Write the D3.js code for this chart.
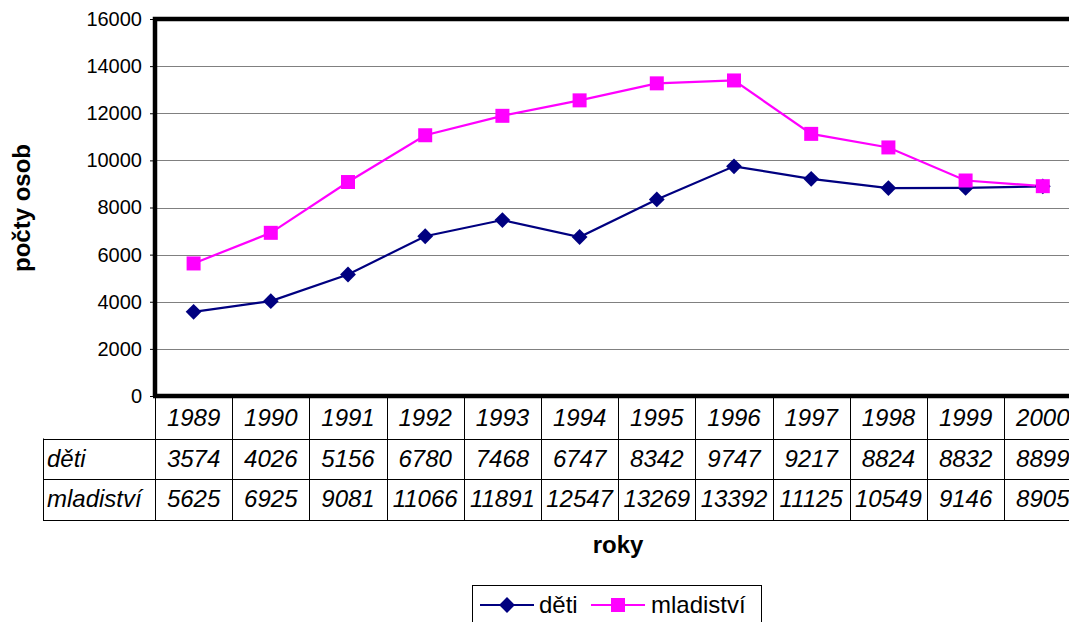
<!DOCTYPE html>
<html>
<head>
<meta charset="utf-8">
<script src="https://cdn.jsdelivr.net/npm/d3@7"></script>
<style>
  body { margin: 0; background: #fff; }
  svg { display: block; font-family: "Liberation Sans", Arial, sans-serif; }
</style>
</head>
<body>
<svg id="chart" width="1069" height="622"></svg>
<script>
// data
var years = ["1989", "1990", "1991", "1992", "1993", "1994", "1995", "1996", "1997", "1998", "1999", "2000"];
var deti = [3574, 4026, 5156, 6780, 7468, 6747, 8342, 9747, 9217, 8824, 8832, 8899];
var mladistvi = [5625, 6925, 9081, 11066, 11891, 12547, 13269, 13392, 11125, 10549, 9146, 8905];
var yTicks = [0, 2000, 4000, 6000, 8000, 10000, 12000, 14000, 16000];
var seriesNames = ["děti", "mladiství"];
var seriesColors = ["#000080", "#ff00ff"];

var svg = d3.select("#chart");

// plot area (right edge runs off the picture)
var plotLeft = 155, plotTop = 19, plotBottom = 396, colW = 77.2;
var plotRight = plotLeft + colW * years.length;

var x = d3.scaleBand().domain(years).range([plotLeft, plotRight]);
var y = d3.scaleLinear().domain([0, 16000]).range([plotBottom, plotTop]);

// gridlines
svg.append("g")
  .selectAll("line")
  .data(yTicks.filter(function(d) { return d > 0 && d < 16000; }))
  .join("line")
  .attr("x1", plotLeft).attr("x2", plotRight)
  .attr("y1", function(d) { return Math.round(y(d)) + 0.5; })
  .attr("y2", function(d) { return Math.round(y(d)) + 0.5; })
  .attr("stroke", "#808080")
  .attr("stroke-width", 1);

// y axis
var yAxis = d3.axisLeft(y).tickValues(yTicks).tickFormat(d3.format("d")).tickSize(5).tickPadding(8);
var gy = svg.append("g")
  .attr("transform", "translate(" + plotLeft + ",0)")
  .call(yAxis);
gy.select(".domain").remove();
gy.selectAll(".tick line").attr("stroke", "#000");
gy.selectAll(".tick text")
  .attr("font-size", 20)
  .attr("font-family", "Liberation Sans, Arial, sans-serif")
  .attr("fill", "#000");

// thick frame: left, top, bottom
svg.append("path")
  .attr("d", "M" + plotLeft + "," + plotBottom + "V" + plotTop + "H" + plotRight)
  .attr("fill", "none").attr("stroke", "#000").attr("stroke-width", 4.5);
svg.append("line")
  .attr("x1", plotLeft - 2).attr("x2", plotRight)
  .attr("y1", plotBottom).attr("y2", plotBottom)
  .attr("stroke", "#000").attr("stroke-width", 4.5);

// lines + markers
var line = d3.line()
  .x(function(d, i) { return x(years[i]) + x.bandwidth() / 2; })
  .y(function(d) { return y(d); });

[deti, mladistvi].forEach(function(vals, si) {
  svg.append("path")
    .datum(vals)
    .attr("d", line)
    .attr("fill", "none")
    .attr("stroke", seriesColors[si])
    .attr("stroke-width", 2.2);
});

[deti, mladistvi].forEach(function(vals, si) {
  svg.append("g")
    .selectAll("path")
    .data(vals)
    .join("path")
    .attr("d", d3.symbol().type(d3.symbolSquare).size(si == 0 ? 125 : 196)())
    .attr("transform", function(d, i) {
      var t = "translate(" + (x(years[i]) + x.bandwidth() / 2) + "," + y(d) + ")";
      return si == 0 ? t + " rotate(45)" : t;
    })
    .attr("fill", seriesColors[si]);
});

// data table
var rowTop = 398, rowH = 40.5, labelLeft = 43;
var tbl = svg.append("g").attr("stroke", "#000").attr("stroke-width", 1);
var rows = [years, deti, mladistvi];

// horizontal lines
[rowTop + rowH, rowTop + rowH * 2, rowTop + rowH * 3].forEach(function(yy) {
  tbl.append("line")
    .attr("x1", labelLeft).attr("x2", plotRight)
    .attr("y1", Math.round(yy) + 0.5).attr("y2", Math.round(yy) + 0.5);
});
// vertical lines
tbl.append("line")
  .attr("x1", labelLeft + 0.5).attr("x2", labelLeft + 0.5)
  .attr("y1", rowTop + rowH).attr("y2", rowTop + rowH * 3 + 0.5);
years.forEach(function(yr) {
  var xx = Math.round(x(yr)) + 0.5;
  tbl.append("line")
    .attr("x1", xx).attr("x2", xx)
    .attr("y1", rowTop).attr("y2", rowTop + rowH * 3 + 0.5);
});

rows.forEach(function(vals, ri) {
  svg.append("g")
    .selectAll("text")
    .data(vals)
    .join("text")
    .attr("x", function(d, i) { return x(years[i]) + x.bandwidth() / 2; })
    .attr("y", rowTop + rowH * ri + rowH / 2 + 8)
    .attr("text-anchor", "middle")
    .attr("font-size", 24)
    .attr("font-style", "italic")
    .attr("fill", "#000")
    .text(function(d) { return d; });
});
seriesNames.forEach(function(n, i) {
  svg.append("text")
    .attr("x", labelLeft + 4)
    .attr("y", rowTop + rowH * (i + 1) + rowH / 2 + 8)
    .attr("font-size", 24)
    .attr("font-style", "italic")
    .attr("fill", "#000")
    .text(n);
});

// axis titles
svg.append("text")
  .attr("x", 618).attr("y", 553)
  .attr("text-anchor", "middle")
  .attr("font-size", 24).attr("font-weight", "bold")
  .text("roky");
svg.append("text")
  .attr("transform", "translate(30,208) rotate(-90)")
  .attr("text-anchor", "middle")
  .attr("font-size", 24).attr("font-weight", "bold")
  .text("počty osob");

// legend
var lg = svg.append("g");
lg.append("rect")
  .attr("x", 472.5).attr("y", 585.5)
  .attr("width", 289).attr("height", 60)
  .attr("fill", "#fff").attr("stroke", "#000").attr("stroke-width", 1);
var legItems = [{ x1: 480, x2: 534, tx: 539 }, { x1: 591, x2: 645, tx: 651 }];
legItems.forEach(function(it, i) {
  lg.append("line")
    .attr("x1", it.x1).attr("x2", it.x2)
    .attr("y1", 605).attr("y2", 605)
    .attr("stroke", seriesColors[i]).attr("stroke-width", 2.2);
  lg.append("path")
    .attr("d", d3.symbol().type(d3.symbolSquare).size(i == 0 ? 125 : 196)())
    .attr("transform", "translate(" + (it.x1 + it.x2) / 2 + ",605)" + (i == 0 ? " rotate(45)" : ""))
    .attr("fill", seriesColors[i]);
  lg.append("text")
    .attr("x", it.tx).attr("y", 613)
    .attr("font-size", 24)
    .attr("fill", "#000")
    .text(seriesNames[i]);
});
</script>
</body>
</html>
